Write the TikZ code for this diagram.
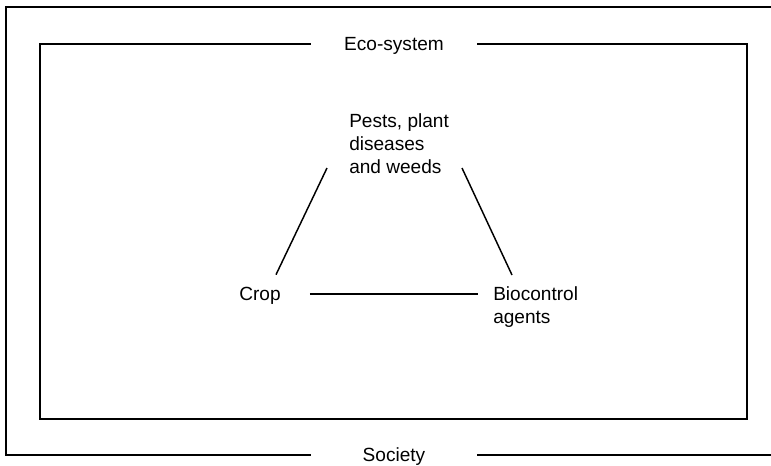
\documentclass[tikz,border=0pt]{standalone}
\usepackage{fontspec}
\setmainfont{Liberation Sans}
\begin{document}
\begin{tikzpicture}[x=0.75pt,y=-0.75pt,
  frame/.style={line width=1.5pt,line cap=rect},
  link/.style={line width=1.1pt},
  lbl/.style={font=\fontsize{14.3pt}{16.9pt}\selectfont,inner sep=0pt},
  gaplbl/.style={lbl,minimum width=126pt,text depth=0pt}]
\useasboundingbox (0,0) rectangle (771,465);
% labels
\node[gaplbl] (eco) at (394,44) {Eco-system};
\node[gaplbl] (soc) at (394,455) {Society};
\node[lbl,align=left,anchor=base west] (pests) at (349,173) {Pests, plant\\diseases\\and weeds};
\node[lbl,text depth=0pt] (crop) at (260,294) {Crop};
\node[lbl,align=left,anchor=base west] (bio) at (493,323) {Biocontrol\\agents};
% inner frame (eco-system)
\draw[frame] (eco.west) -- (40,44) -- (40,419) -- (747,419) -- (747,44) -- (eco.east);
% outer frame (society)
\draw[frame] (soc.west) -- (6,455) -- (6,7) -- (771,7);
\draw[frame] (soc.east) -- (771,455);
% connectors
\draw[link] ([shift={(-22,-5)}]pests.base west) -- ([shift={(16,-26)}]crop.base);
\draw[link] ([shift={(113,-5)}]pests.base west) -- ([shift={(19,-48)}]bio.base west);
\draw[link] ([shift={(29,0)}]crop.east) -- ([shift={(-15,0)}]crop.east -| bio.west);
\end{tikzpicture}
\end{document}
